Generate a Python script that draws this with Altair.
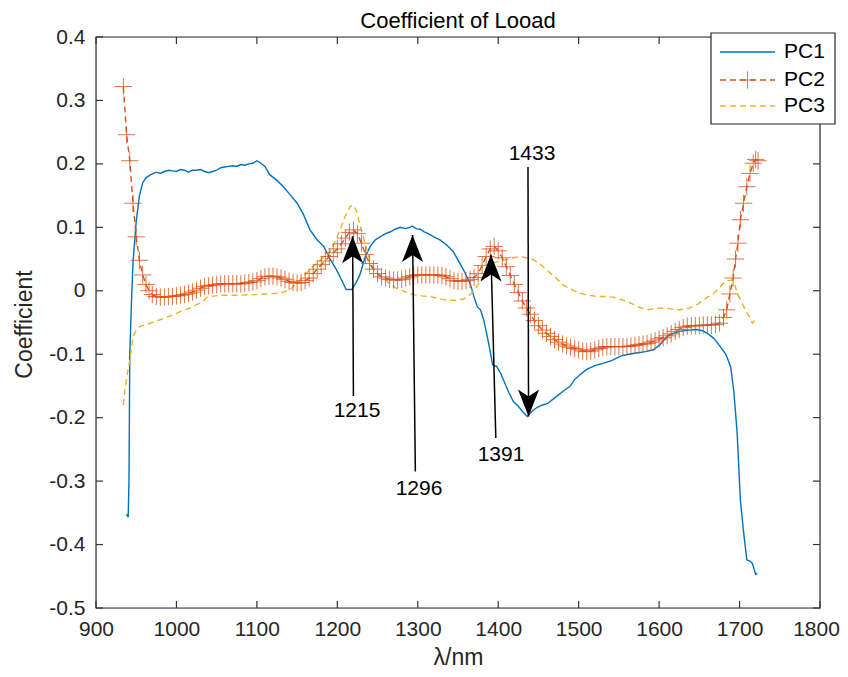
import altair as alt
import pandas as pd

FONT = "Liberation Sans"

# ---------------- data ----------------
series_names = ["PC1", "PC2", "PC3"]
series_colors = ["#0072BD", "#D95319", "#EDB120"]

pc1_nm = [938, 940, 941, 942, 944, 946, 950, 954, 958, 962, 968, 975, 980, 985, 990, 995,
          1000, 1005, 1010, 1015, 1020, 1025, 1030, 1035, 1040, 1045, 1050, 1055, 1060, 1065,
          1070, 1075, 1080, 1085, 1090, 1095, 1100, 1105, 1110, 1116, 1125, 1133, 1141, 1150,
          1158, 1166, 1175, 1183, 1191, 1199, 1206, 1211, 1218, 1223, 1228, 1235, 1241, 1247,
          1253, 1260, 1266, 1272, 1278, 1285, 1290, 1293, 1298, 1303, 1308, 1313, 1320, 1328,
          1336, 1344, 1352, 1358, 1365, 1370, 1374, 1378, 1382, 1386, 1390, 1393, 1398, 1403,
          1408, 1413, 1419, 1425, 1430, 1436, 1442, 1448, 1455, 1461, 1467, 1473, 1481, 1489,
          1495, 1502, 1510, 1520, 1531, 1541, 1552, 1562, 1572, 1583, 1593, 1601, 1610, 1618,
          1626, 1636, 1647, 1654, 1660, 1668, 1676, 1683, 1689, 1693, 1697, 1701, 1705, 1709,
          1713, 1716, 1720, 1722]
pc1_val = [-0.352, -0.357, -0.300, -0.100, -0.020, 0.044, 0.110, 0.150, 0.170, 0.178, 0.183,
           0.187, 0.185, 0.188, 0.190, 0.189, 0.188, 0.191, 0.190, 0.187, 0.190, 0.190, 0.191,
           0.188, 0.186, 0.188, 0.190, 0.194, 0.195, 0.196, 0.197, 0.196, 0.199, 0.198, 0.200,
           0.201, 0.205, 0.201, 0.196, 0.183, 0.174, 0.164, 0.152, 0.138, 0.120, 0.096, 0.080,
           0.070, 0.050, 0.033, 0.015, 0.002, 0.002, 0.012, 0.025, 0.055, 0.070, 0.080, 0.085,
           0.090, 0.093, 0.097, 0.100, 0.098, 0.100, 0.102, 0.098, 0.097, 0.093, 0.090, 0.085,
           0.080, 0.072, 0.062, 0.044, 0.030, 0.012, -0.010, -0.025, -0.030, -0.046, -0.070,
           -0.095, -0.117, -0.119, -0.130, -0.145, -0.160, -0.175, -0.182, -0.190, -0.198,
           -0.190, -0.184, -0.180, -0.178, -0.172, -0.166, -0.158, -0.151, -0.140, -0.132,
           -0.124, -0.118, -0.114, -0.110, -0.103, -0.100, -0.098, -0.096, -0.093, -0.085,
           -0.072, -0.067, -0.064, -0.062, -0.061, -0.063, -0.067, -0.075, -0.088, -0.100,
           -0.120, -0.160, -0.224, -0.330, -0.380, -0.424, -0.426, -0.430, -0.447, -0.445]

pc2_nm = [934, 938, 942, 946, 950, 954, 958, 962, 966, 970, 975, 980, 985, 990, 995,
          1000, 1005, 1010, 1015, 1020, 1025, 1030, 1035, 1040, 1045, 1050, 1055, 1060, 1065,
          1070, 1075, 1080, 1085, 1090, 1095, 1100, 1105, 1110, 1115, 1120, 1125, 1130, 1135,
          1140, 1145, 1150, 1155, 1160, 1165, 1170, 1175, 1180, 1185, 1190, 1195, 1200, 1205,
          1210, 1215, 1220, 1225, 1230, 1235, 1240, 1245, 1250, 1255, 1260, 1265, 1270, 1275,
          1280, 1285, 1290, 1295, 1300, 1305, 1310, 1315, 1320, 1325, 1330, 1335, 1340, 1345,
          1350, 1355, 1360, 1365, 1370, 1375, 1380, 1385, 1390, 1395, 1400, 1405, 1410, 1415,
          1420, 1425, 1430, 1435, 1440, 1445, 1450, 1455, 1460, 1465, 1470, 1475, 1480, 1485,
          1490, 1495, 1500, 1505, 1510, 1515, 1520, 1525, 1530, 1535, 1540, 1545, 1550, 1555,
          1560, 1565, 1570, 1575, 1580, 1585, 1590, 1595, 1600, 1605, 1610, 1615, 1620, 1625,
          1630, 1635, 1640, 1645, 1650, 1655, 1660, 1665, 1670, 1675, 1680, 1684, 1688, 1692,
          1695, 1698, 1701, 1705, 1709, 1713, 1717, 1720, 1723]
pc2_val = [0.322, 0.246, 0.205, 0.138, 0.085, 0.048, 0.025, 0.010, 0.000, -0.006, -0.009,
           -0.010, -0.010, -0.009, -0.009, -0.008, -0.007, -0.006, -0.004, -0.002, 0.001,
           0.004, 0.007, 0.008, 0.009, 0.010, 0.011, 0.011, 0.011, 0.011, 0.011, 0.011, 0.012,
           0.013, 0.014, 0.016, 0.019, 0.022, 0.023, 0.023, 0.022, 0.020, 0.018, 0.015, 0.013,
           0.012, 0.013, 0.016, 0.020, 0.027, 0.034, 0.041, 0.047, 0.054, 0.060, 0.066, 0.074,
           0.083, 0.092, 0.096, 0.090, 0.075, 0.057, 0.043, 0.034, 0.027, 0.022, 0.020, 0.018,
           0.017, 0.017, 0.018, 0.020, 0.022, 0.024, 0.025, 0.025, 0.025, 0.025, 0.025, 0.025,
           0.024, 0.022, 0.019, 0.016, 0.015, 0.015, 0.016, 0.018, 0.021, 0.027, 0.040, 0.054,
           0.066, 0.070, 0.063, 0.052, 0.038, 0.024, 0.010, -0.003, -0.016, -0.027, -0.037,
           -0.047, -0.055, -0.062, -0.067, -0.072, -0.077, -0.081, -0.084, -0.087, -0.089,
           -0.091, -0.093, -0.095, -0.096, -0.095, -0.093, -0.091, -0.089, -0.088, -0.088,
           -0.088, -0.088, -0.088, -0.088, -0.087, -0.086, -0.085, -0.084, -0.083, -0.081,
           -0.079, -0.076, -0.074, -0.071, -0.068, -0.064, -0.061, -0.058, -0.056, -0.055,
           -0.055, -0.055, -0.054, -0.054, -0.054, -0.053, -0.051, -0.042, -0.030, -0.005,
           0.020, 0.050, 0.075, 0.112, 0.138, 0.164, 0.185, 0.201, 0.207, 0.205]

pc3_nm = [934, 936, 939, 942, 946, 950, 955, 965, 975, 985, 996, 1006, 1017, 1025, 1033,
          1038, 1048, 1058, 1068, 1079, 1090, 1100, 1112, 1125, 1133, 1141, 1150, 1158, 1166,
          1175, 1183, 1191, 1198, 1204, 1210, 1216, 1220, 1224, 1228, 1232, 1237, 1241, 1247,
          1253, 1260, 1266, 1272, 1278, 1287, 1295, 1305, 1315, 1325, 1336, 1346, 1357, 1363,
          1369, 1375, 1382, 1388, 1394, 1402, 1411, 1419, 1427, 1435, 1444, 1452, 1460, 1470,
          1481, 1491, 1502, 1512, 1523, 1533, 1543, 1553, 1564, 1575, 1585, 1595, 1606, 1616,
          1626, 1638, 1648, 1658, 1668, 1675, 1680, 1686, 1691, 1694, 1697, 1703, 1709, 1712,
          1716, 1720]
pc3_val = [-0.180, -0.156, -0.130, -0.110, -0.072, -0.062, -0.056, -0.052, -0.048, -0.043,
           -0.038, -0.032, -0.027, -0.022, -0.017, -0.010, -0.008, -0.007, -0.007, -0.007,
           -0.006, -0.006, -0.005, -0.004, -0.002, 0.002, 0.012, 0.023, 0.034, 0.044, 0.053,
           0.062, 0.080, 0.098, 0.118, 0.133, 0.135, 0.125, 0.105, 0.086, 0.064, 0.044, 0.032,
           0.023, 0.017, 0.010, 0.005, 0.002, -0.003, -0.006, -0.008, -0.009, -0.012, -0.015,
           -0.015, -0.013, -0.008, -0.001, 0.010, 0.023, 0.034, 0.044, 0.047, 0.049, 0.052,
           0.054, 0.052, 0.049, 0.042, 0.033, 0.022, 0.009, 0.002, -0.004, -0.007, -0.009,
           -0.009, -0.010, -0.014, -0.019, -0.026, -0.030, -0.028, -0.027, -0.029, -0.030,
           -0.027, -0.021, -0.012, -0.004, 0.005, 0.012, 0.016, 0.017, 0.010, -0.004, -0.019,
           -0.035, -0.040, -0.051, -0.046]

# annotations: label text, label position, arrow tail and tip (data units)
ann_text = ["1215", "1296", "1391", "1433"]
ann_text_x = [1224.5, 1301.5, 1403.5, 1442]
ann_text_y = [-0.190, -0.312, -0.259, 0.216]
arrow_tail_x = [1220, 1297, 1397, 1437]
arrow_tail_y = [-0.166, -0.285, -0.232, 0.195]
arrow_tip_x = [1219, 1293.5, 1391, 1437.7]
arrow_tip_y = [0.086, 0.088, 0.057, -0.198]
arrow_dir = ["up", "up", "up", "down"]

x_ticks = [900, 1000, 1100, 1200, 1300, 1400, 1500, 1600, 1700, 1800]
y_ticks = [-0.5, -0.4, -0.3, -0.2, -0.1, 0, 0.1, 0.2, 0.3, 0.4]

assert len(pc1_nm) == len(pc1_val)
assert len(pc2_nm) == len(pc2_val)
assert len(pc3_nm) == len(pc3_val)

# ---------------- chart ----------------
W, H = 724, 571
AX = "#333333"
TICK_FS = 21
TITLE_FS = 23
xs = alt.Scale(domain=[900, 1800], nice=False, zero=False)
ys = alt.Scale(domain=[-0.5, 0.4], nice=False, zero=False)

df1 = pd.DataFrame({"nm": pc1_nm, "v": pc1_val})
df2 = pd.DataFrame({"nm": pc2_nm, "v": pc2_val})
df3 = pd.DataFrame({"nm": pc3_nm, "v": pc3_val})

x_axis = alt.Axis(values=x_ticks, format="d", ticks=False, domain=False, grid=False,
                  labelFlush=False, labelOverlap=False,
                  labelOffset={"condition": {"test": "datum.value == 1800", "value": -4},
                               "value": 0},
                  labelFontSize=TICK_FS, labelFont=FONT, labelColor="#262626", labelPadding=10,
                  title="λ/nm", titleFont=FONT, titleFontSize=TITLE_FS, titleFontWeight="normal",
                  titleColor="#262626", titleX=362, titleY=49, titleBaseline="middle",
                  titleAlign="center")
y_axis = alt.Axis(values=y_ticks, labelExpr="'' + datum.value", ticks=False, domain=False,
                  grid=False, labelFlush=False, labelOverlap=False,
                  labelFontSize=TICK_FS, labelFont=FONT, labelColor="#262626",
                  labelPadding=11, title="Coefficient", titleFont=FONT, titleFontSize=TITLE_FS,
                  titleFontWeight="normal", titleColor="#262626", titleX=-72, titleY=287,
                  titleBaseline="middle", titleAlign="center", titleAngle=270)


def X(field):
    return alt.X(field, scale=xs, axis=x_axis, title="λ/nm")


def Y(field):
    return alt.Y(field, scale=ys, axis=y_axis, title="Coefficient")


frame = alt.Chart(pd.DataFrame({"a": [0]})).mark_rect(
    fillOpacity=0, stroke=AX, strokeWidth=1.2
).encode(x=alt.value(0), x2=alt.value(W), y=alt.value(0), y2=alt.value(H))

line1 = alt.Chart(df1).mark_line(color=series_colors[0], strokeWidth=1.4).encode(
    x=X("nm:Q"), y=Y("v:Q"), order="nm:Q")
line3 = alt.Chart(df3).mark_line(color=series_colors[2], strokeWidth=1.4,
                                 strokeDash=[6, 4]).encode(
    x=X("nm:Q"), y=Y("v:Q"), order="nm:Q")
line2 = alt.Chart(df2).mark_line(color=series_colors[1], strokeWidth=1.4,
                                 strokeDash=[6, 4]).encode(
    x=X("nm:Q"), y=Y("v:Q"), order="nm:Q")
PLUS = "M-1,0L1,0M0,-1L0,1"
marks2 = alt.Chart(df2).mark_point(shape=PLUS, size=300, filled=False, strokeWidth=1,
                                   color=series_colors[1], opacity=0.8).encode(
    x=X("nm:Q"), y=Y("v:Q"))

adf = pd.DataFrame({"t": ann_text, "tx": ann_text_x, "ty": ann_text_y,
                    "x0": arrow_tail_x, "y0": arrow_tail_y,
                    "x1": arrow_tip_x, "y1": arrow_tip_y, "dir": arrow_dir})
arrows = alt.Chart(adf).mark_rule(color="black", strokeWidth=1.5).encode(
    x=X("x0:Q"), y=Y("y0:Q"), x2="x1:Q", y2="y1:Q")
HEAD_UP = "M0,0L0.78,2L0,1.48L-0.78,2Z"
HEAD_DN = "M0,0L0.78,-2L0,-1.48L-0.78,-2Z"
heads_up = alt.Chart(adf).transform_filter("datum.dir == 'up'").mark_point(
    shape=HEAD_UP, size=729, filled=True, color="black", opacity=1).encode(
    x=X("x1:Q"), y=Y("y1:Q"))
heads_dn = alt.Chart(adf).transform_filter("datum.dir == 'down'").mark_point(
    shape=HEAD_DN, size=729, filled=True, color="black", opacity=1).encode(
    x=X("x1:Q"), y=Y("y1:Q"))
labels = alt.Chart(adf).mark_text(font=FONT, fontSize=TICK_FS, color="black",
                                  baseline="middle", align="center").encode(
    x=X("tx:Q"), y=Y("ty:Q"), text="t:N")

# inward tick marks on all four sides
xt = pd.DataFrame({"v": x_ticks})
yt = pd.DataFrame({"v": y_ticks})
tick_b = alt.Chart(xt).mark_rule(color=AX, strokeWidth=1.2).encode(
    x=X("v:Q"), y=alt.value(H), y2=alt.value(H - 7))
tick_t = alt.Chart(xt).mark_rule(color=AX, strokeWidth=1.2).encode(
    x=X("v:Q"), y=alt.value(0), y2=alt.value(7))
tick_l = alt.Chart(yt).mark_rule(color=AX, strokeWidth=1.2).encode(
    y=Y("v:Q"), x=alt.value(0), x2=alt.value(7))
tick_r = alt.Chart(yt).mark_rule(color=AX, strokeWidth=1.2).encode(
    y=Y("v:Q"), x=alt.value(W), x2=alt.value(W - 7))

# legend (box in the upper right corner)
one = pd.DataFrame({"a": [0]})
LX0, LX1, LY0, LY1 = 615, 739, -4, 87
row_y = [15, 43, 69]
leg_box = alt.Chart(one).mark_rect(fill="white", stroke="#262626", strokeWidth=1.2).encode(
    x=alt.value(LX0), x2=alt.value(LX1), y=alt.value(LY0), y2=alt.value(LY1))
leg_layers = [leg_box]
dashes = [[1, 0], [6, 4], [6, 4]]
for i, name in enumerate(series_names):
    leg_layers.append(alt.Chart(one).mark_rule(color=series_colors[i], strokeWidth=1.4,
                                               strokeDash=dashes[i]).encode(
        x=alt.value(624), x2=alt.value(679), y=alt.value(row_y[i])))
    leg_layers.append(alt.Chart(one).mark_text(font=FONT, fontSize=TICK_FS, color="black",
                                               align="left", baseline="middle").encode(
        x=alt.value(688), y=alt.value(row_y[i]), text=alt.value(name)))
leg_layers.append(alt.Chart(one).mark_point(shape=PLUS, size=300, filled=False, strokeWidth=1,
                                            color=series_colors[1], opacity=0.8).encode(
    x=alt.value(651.5), y=alt.value(row_y[1])))

title = alt.Chart(one).mark_text(font=FONT, fontSize=22, color="black", align="center",
                                 baseline="alphabetic").encode(
    x=alt.value(W / 2), y=alt.value(-9), text=alt.value("Coefficient of Looad"))

chart = alt.layer(
    frame, line1, line3, line2, marks2, arrows, heads_up, heads_dn, labels,
    tick_b, tick_t, tick_l, tick_r, *leg_layers, title
).properties(
    width=W, height=H, autosize="none",
    padding={"left": 88, "top": 29, "right": 20, "bottom": 61}
).configure_view(stroke=None).configure(background="white")

chart.save("out.html", embed_options={"renderer": "svg", "actions": False})
